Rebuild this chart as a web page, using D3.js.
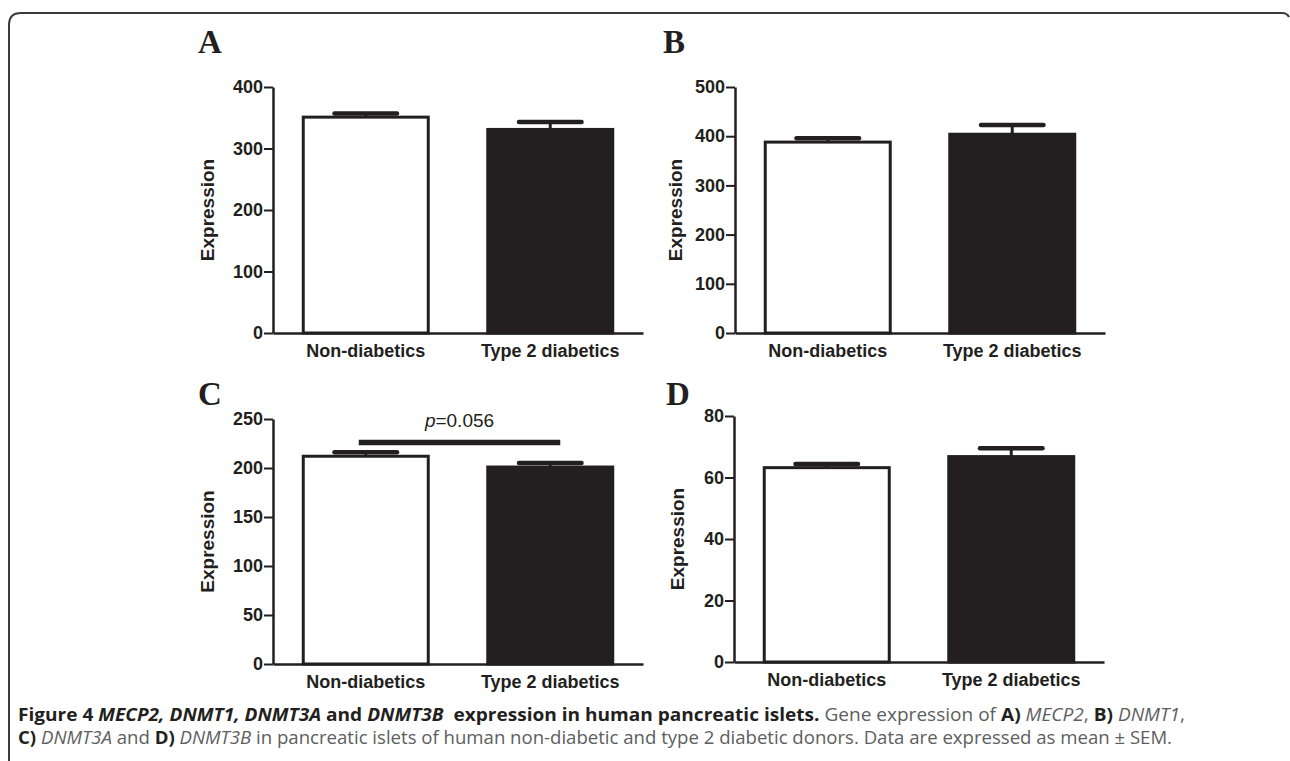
<!DOCTYPE html>
<html>
<head>
<meta charset="utf-8">
<script src="https://cdn.jsdelivr.net/npm/d3@7/dist/d3.min.js"></script>
<style>
	body { margin: 0; background: #fff; }
	svg { display: block; }
	.axis text { font-family: Arial, "Liberation Sans", sans-serif; font-weight: bold; font-size: 18px; fill: #231f20; }
	.axis path, .axis line { stroke: #231f20; }
	.caption { font-family: "Open Sans", "Noto Sans", sans-serif; font-size: 18px; fill: #5d5e60; }
	.caption .b { font-weight: bold; fill: #231f20; }
	.caption .i { font-style: italic; }
</style>
</head>
<body>
<div id="chart"></div>
<script>
// groups shared by every panel
const groups = ["Non-diabetics", "Type 2 diabetics"];
const barFills = ["#ffffff", "#231f20"];

// A) MECP2
const mecp2Mean = [351, 331];
const mecp2Sem = [6, 12];
const mecp2Ticks = [0, 100, 200, 300, 400];

// B) DNMT1
const dnmt1Mean = [388, 404];
const dnmt1Sem = [8, 19];
const dnmt1Ticks = [0, 100, 200, 300, 400, 500];

// C) DNMT3A
const dnmt3aMean = [212, 201];
const dnmt3aSem = [4, 4];
const dnmt3aTicks = [0, 50, 100, 150, 200, 250];
const dnmt3aP = "0.056";

// D) DNMT3B
const dnmt3bMean = [63.2, 66.8];
const dnmt3bSem = [1.2, 2.7];
const dnmt3bTicks = [0, 20, 40, 60, 80];

const svg = d3.select("#chart").append("svg")
	.attr("width", 1290)
	.attr("height", 761);

// figure frame (open at the bottom)
svg.append("path")
	.attr("d", "M9,761 V25 Q9,13 21,13 H1282 Q1287,13 1289,17")
	.attr("fill", "none")
	.attr("stroke", "#3a3a3a")
	.attr("stroke-width", 2);

const panels = [
	{ letter: "A", lx: 198, ly: 53, left: 273, top: 87, height: 246, mean: mecp2Mean, sem: mecp2Sem, ticks: mecp2Ticks, labelX: -66 },
	{ letter: "B", lx: 663, ly: 53, left: 735, top: 87, height: 246, mean: dnmt1Mean, sem: dnmt1Sem, ticks: dnmt1Ticks, labelX: -60 },
	{ letter: "C", lx: 198, ly: 405, left: 273, top: 419, height: 245, mean: dnmt3aMean, sem: dnmt3aSem, ticks: dnmt3aTicks, labelX: -66, pValue: dnmt3aP, sigY: 226 },
	{ letter: "D", lx: 666, ly: 405, left: 734, top: 416, height: 246, mean: dnmt3bMean, sem: dnmt3bSem, ticks: dnmt3bTicks, labelX: -57 }
];

const plotWidth = 370;

panels.forEach(p => drawPanel(p));

function drawPanel(p) {
	svg.append("text")
		.attr("x", p.lx)
		.attr("y", p.ly)
		.attr("font-family", "'Liberation Serif', 'Times New Roman', serif")
		.attr("font-weight", "bold")
		.attr("font-size", 33)
		.attr("fill", "#231f20")
		.text(p.letter);

	const g = svg.append("g")
		.attr("transform", `translate(${p.left},${p.top})`);

	const x = d3.scaleBand()
		.domain(groups)
		.range([0, plotWidth])
		.paddingInner(0.3225)
		.paddingOuter(0.164);

	const y = d3.scaleLinear()
		.domain([0, d3.max(p.ticks)])
		.range([p.height, 0]);

	const rows = groups.map((d, i) => ({ group: d, mean: p.mean[i], sem: p.sem[i], fill: barFills[i] }));

	// bars
	g.selectAll(".bar")
		.data(rows)
		.join("rect")
		.attr("class", "bar")
		.attr("x", d => x(d.group))
		.attr("y", d => y(d.mean))
		.attr("width", x.bandwidth())
		.attr("height", d => y(0) - y(d.mean))
		.attr("fill", d => d.fill)
		.attr("stroke", "#231f20")
		.attr("stroke-width", 3);

	// error bars (mean + SEM)
	g.selectAll(".err")
		.data(rows)
		.join("line")
		.attr("class", "err")
		.attr("x1", d => x(d.group) + x.bandwidth() / 2)
		.attr("x2", d => x(d.group) + x.bandwidth() / 2)
		.attr("y1", d => y(d.mean))
		.attr("y2", d => y(d.mean + d.sem))
		.attr("stroke", "#231f20")
		.attr("stroke-width", 3);

	g.selectAll(".cap")
		.data(rows)
		.join("line")
		.attr("class", "cap")
		.attr("x1", d => x(d.group) + x.bandwidth() / 4)
		.attr("x2", d => x(d.group) + x.bandwidth() * 3 / 4)
		.attr("y1", d => y(d.mean + d.sem))
		.attr("y2", d => y(d.mean + d.sem))
		.attr("stroke", "#231f20")
		.attr("stroke-width", 4.5)
		.attr("stroke-linecap", "round");

	// axes
	const yAxisGroup = g.append("g")
		.attr("class", "axis y-axis")
		.call(d3.axisLeft(y).tickValues(p.ticks).tickSize(9).tickSizeOuter(0).tickPadding(1));
	yAxisGroup.select(".domain").attr("stroke-width", 2.5);
	yAxisGroup.selectAll(".tick line").attr("stroke-width", 2);

	const xAxisGroup = g.append("g")
		.attr("class", "axis x-axis")
		.attr("transform", `translate(0, ${p.height})`)
		.call(d3.axisBottom(x).tickSize(0).tickSizeOuter(0).tickPadding(11));
	xAxisGroup.select(".domain").attr("stroke-width", 2.5);

	// y axis label
	g.append("text")
		.attr("transform", "rotate(-90)")
		.attr("x", -p.height / 2)
		.attr("y", p.labelX)
		.attr("dy", "0.35em")
		.attr("text-anchor", "middle")
		.attr("font-family", "Arial, 'Liberation Sans', sans-serif")
		.attr("font-weight", "bold")
		.attr("font-size", 19)
		.attr("fill", "#231f20")
		.text("Expression");

	// significance bar
	if (p.pValue) {
		const x0 = x(groups[0]) + x.bandwidth() / 2 - 7;
		const x1 = x(groups[1]) + x.bandwidth() / 2 + 10;
		g.append("line")
			.attr("x1", x0)
			.attr("x2", x1)
			.attr("y1", y(p.sigY))
			.attr("y2", y(p.sigY))
			.attr("stroke", "#231f20")
			.attr("stroke-width", 5.5);

		const t = g.append("text")
			.attr("x", (x0 + x1) / 2)
			.attr("y", y(p.sigY) - 16)
			.attr("text-anchor", "middle")
			.attr("font-family", "Arial, 'Liberation Sans', sans-serif")
			.attr("font-size", 19)
			.attr("fill", "#231f20");
		t.append("tspan").attr("font-style", "italic").text("p");
		t.append("tspan").text("=" + p.pValue);
	}
}

// caption
const captionLines = [
	[
		["Figure 4 ", "b"], ["MECP2, DNMT1, DNMT3A", "b i"], [" and ", "b"], ["DNMT3B", "b i"],
		["  expression in human pancreatic islets.", "b"], [" Gene expression of ", ""], ["A)", "b"], [" ", ""],
		["MECP2", "i"], [", ", ""], ["B)", "b"], [" ", ""], ["DNMT1", "i"], [",", ""]
	],
	[
		["C)", "b"], [" ", ""], ["DNMT3A", "i"], [" and ", ""], ["D)", "b"], [" ", ""], ["DNMT3B", "i"],
		[" in pancreatic islets of human non-diabetic and type 2 diabetic donors. Data are expressed as mean \u00b1 SEM.", ""]
	]
];
const captionWidths = [1167, 1154];

captionLines.forEach((line, i) => {
	const t = svg.append("text")
		.attr("class", "caption")
		.attr("x", 18)
		.attr("y", 721 + i * 23)
		.attr("textLength", captionWidths[i])
		.attr("lengthAdjust", "spacingAndGlyphs")
		.attr("xml:space", "preserve")
		.style("white-space", "pre");
	line.forEach(([str, cls]) => {
		t.append("tspan").attr("class", cls).text(str);
	});
});
</script>
</body>
</html>
